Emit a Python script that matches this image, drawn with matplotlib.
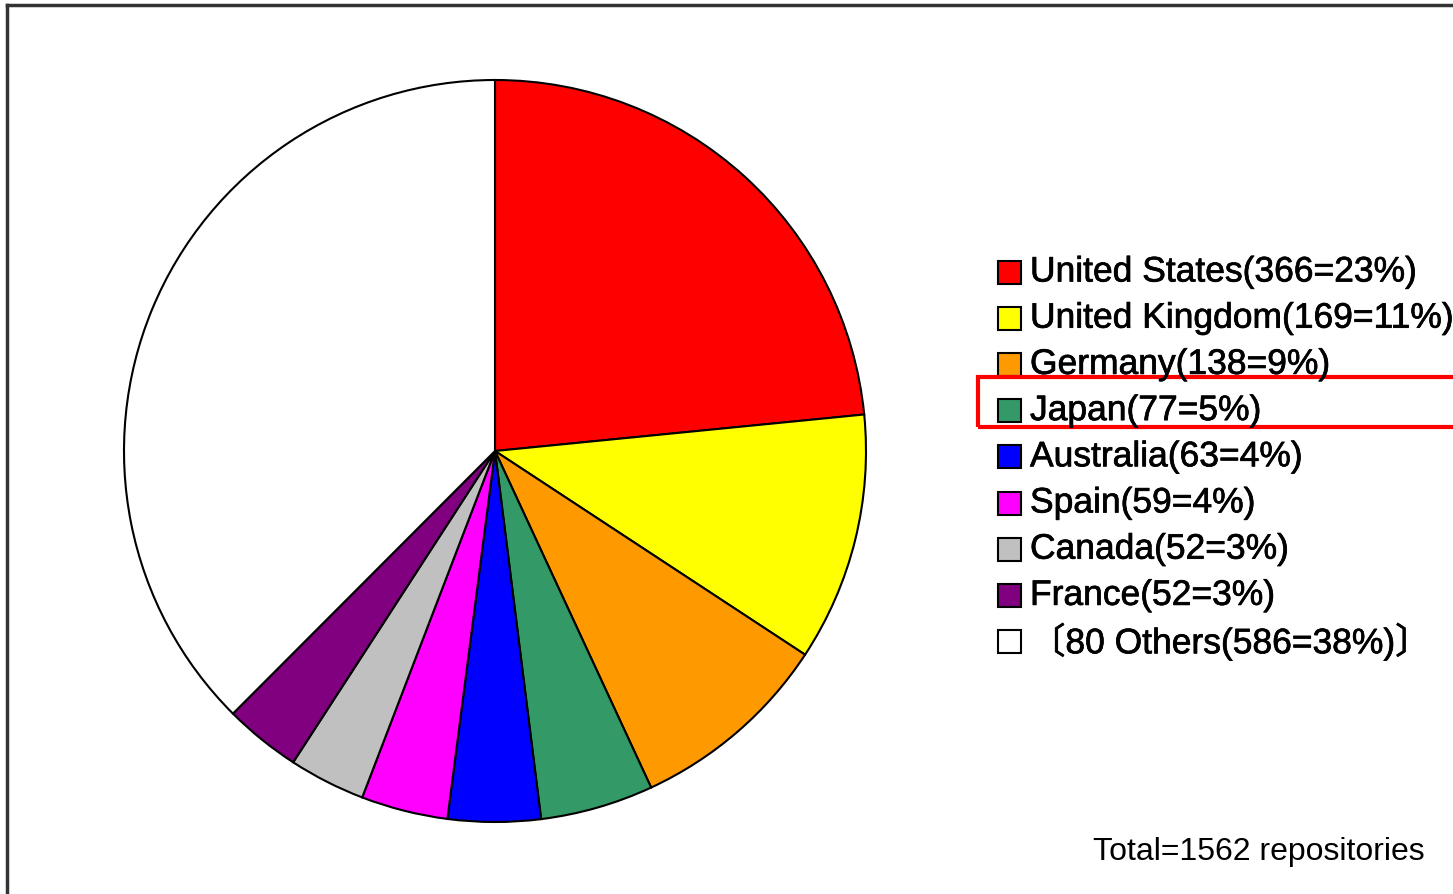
import matplotlib.pyplot as plt
import matplotlib.patheffects as pe
from matplotlib.patches import Rectangle

# data
countries = ['United States', 'United Kingdom', 'Germany', 'Japan', 'Australia',
             'Spain', 'Canada', 'France', '80 Others']
counts = [366, 169, 138, 77, 63, 59, 52, 52, 586]
colors = ['#FF0000', '#FFFF00', '#FF9900', '#339966', '#0000FF',
          '#FF00FF', '#C0C0C0', '#800080', '#FFFFFF']
total = sum(counts)

fig = plt.figure(figsize=(14.53, 8.94), dpi=100)
ax = fig.add_axes([0, 0, 1, 1])

ax.pie(counts, colors=colors, startangle=90, counterclock=False,
       center=(495, 443), radius=371,
       wedgeprops=dict(edgecolor='black', linewidth=1.5))
ax.set_xlim(0, 1453)
ax.set_ylim(0, 894)
ax.set_aspect('equal')
ax.axis('off')

# frame (only left and top visible in the original)
ax.plot([7, 7], [0, 889], color='#333333', lw=2.5, clip_on=False)
ax.plot([7, 1453], [889, 889], color='#333333', lw=2.5, clip_on=False)

# legend built by hand
fam = ['Liberation Sans', 'Noto Sans CJK JP', 'DejaVu Sans']
bold = [pe.withStroke(linewidth=0.5, foreground='black')]
for i, (name, n, c) in enumerate(zip(countries, counts, colors)):
    y = 894 - (272 + 46.2 * i)
    ax.add_patch(Rectangle((998, y - 11.5), 23, 23, facecolor=c,
                           edgecolor='black', lw=1.5))
    label = f'{name}({n}={round(100 * n / total)}%)'
    if name.endswith('Others'):
        label = '〔' + label + '〕'
    ax.text(1030, y, label, fontsize=25.5, family=fam, va='center', ha='left',
            path_effects=bold)

# highlight box around Japan
ax.add_patch(Rectangle((978, 894 - 427), 500, 50, facecolor='none',
                       edgecolor='#FF0000', lw=3, clip_on=True))

ax.text(1425, 894 - 852, f'Total={total} repositories', fontsize=23,
        family='Liberation Sans', va='center', ha='right')

fig.savefig('out.png', dpi=100)
